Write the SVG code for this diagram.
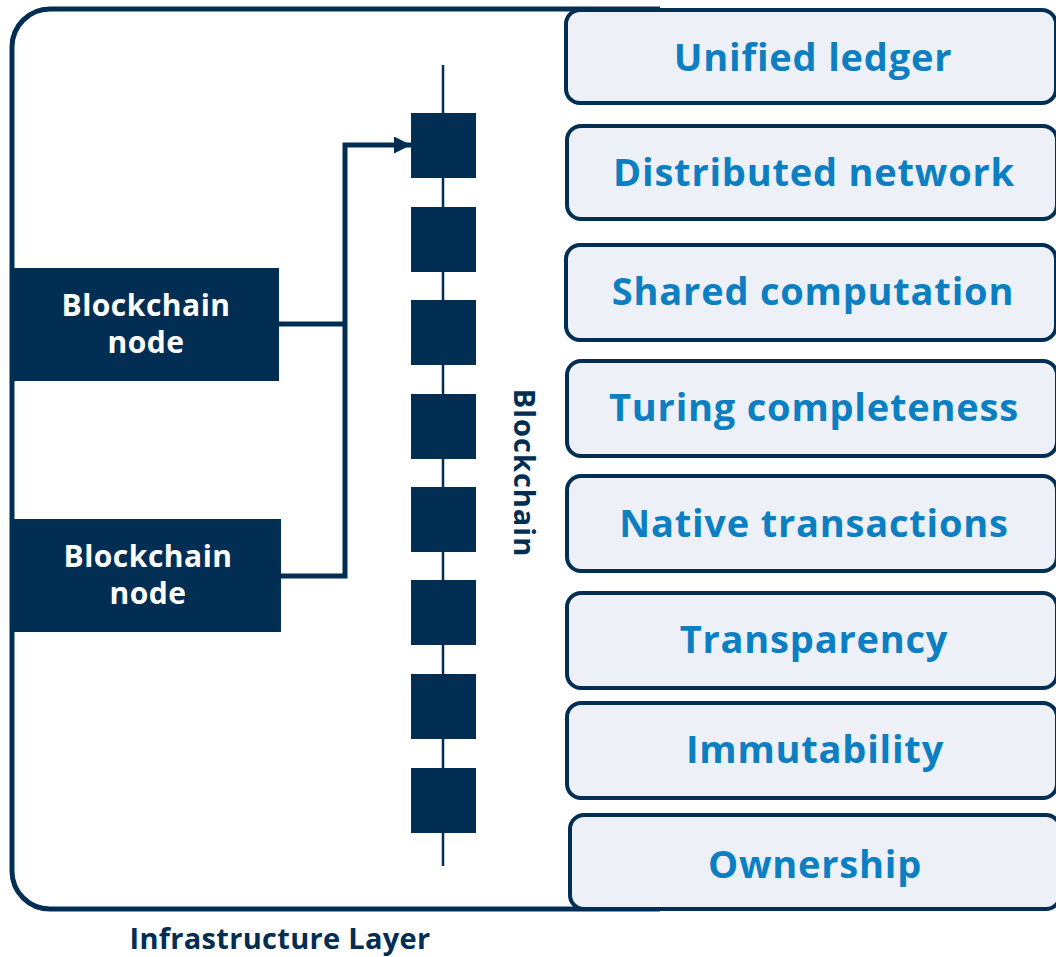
<svg xmlns="http://www.w3.org/2000/svg" width="1056" height="957" viewBox="0 0 1056 957">
<defs>
<style>
.feat rect{fill:#edf0f6;stroke:#032e54;stroke-width:4}
.feat text{font-family:"Open Sans","Liberation Sans",sans-serif;font-weight:700;font-size:38px;letter-spacing:0.8px;fill:#0b7fc2;text-anchor:middle;dominant-baseline:central}
.node rect{fill:#032e54}
.node text{font-family:"Open Sans","Liberation Sans",sans-serif;font-weight:700;font-size:30px;letter-spacing:0.5px;fill:#ffffff;text-anchor:middle}
.blk{fill:#032e54}
.conn{fill:none;stroke:#032e54;stroke-width:5}
.lbl{font-family:"Open Sans","Liberation Sans",sans-serif;font-weight:700;fill:#032e54}
</style>
<marker id="arr" markerWidth="18" markerHeight="18" refX="17" refY="8.5" orient="auto" markerUnits="userSpaceOnUse">
<path d="M0,0 L17,8.5 L0,17 Z" fill="#032e54"/>
</marker>
</defs>
<rect x="0" y="0" width="1056" height="957" fill="#ffffff"/>
<g id="layer">
<path d="M660,9 H50 A38,38 0 0 0 12,47 V871 A38,38 0 0 0 50,909 H660" fill="none" stroke="#032e54" stroke-width="5"/>
</g>
<g id="chain">
<line x1="443" y1="65" x2="443" y2="866" stroke="#032e54" stroke-width="2.5"/>
<rect class="blk" x="411" y="113" width="65" height="65"/>
<rect class="blk" x="411" y="207" width="65" height="65"/>
<rect class="blk" x="411" y="300" width="65" height="65"/>
<rect class="blk" x="411" y="394" width="65" height="65"/>
<rect class="blk" x="411" y="487" width="65" height="65"/>
<rect class="blk" x="411" y="580" width="65" height="65"/>
<rect class="blk" x="411" y="674" width="65" height="65"/>
<rect class="blk" x="411" y="768" width="65" height="65"/>
<text class="lbl" font-size="29" letter-spacing="1" transform="translate(514,473) rotate(90)" text-anchor="middle">Blockchain</text>
</g>
<g id="connectors">
<path class="conn" d="M278,324 H345"/>
<path class="conn" d="M280,576 H345 V145 H411" marker-end="url(#arr)"/>
</g>
<g id="node1" class="node">
<rect x="14" y="268" width="265" height="113"/>
<text x="146" y="316">Blockchain</text>
<text x="146" y="353">node</text>
</g>
<g id="node2" class="node">
<rect x="14" y="519" width="267" height="113"/>
<text x="148" y="567">Blockchain</text>
<text x="148" y="604">node</text>
</g>
<g id="f1" class="feat"><rect x="566" y="10" width="490" height="93" rx="14"/><text x="813" y="56">Unified ledger</text></g>
<g id="f2" class="feat"><rect x="567" y="126" width="490" height="93" rx="14"/><text x="814" y="171">Distributed network</text></g>
<g id="f3" class="feat"><rect x="566" y="245" width="490" height="95" rx="14"/><text x="813" y="290">Shared computation</text></g>
<g id="f4" class="feat"><rect x="567" y="361" width="490" height="95" rx="14"/><text x="814" y="406">Turing completeness</text></g>
<g id="f5" class="feat"><rect x="567" y="476" width="490" height="95" rx="14"/><text x="814" y="522">Native transactions</text></g>
<g id="f6" class="feat"><rect x="567" y="593" width="490" height="95" rx="14"/><text x="814" y="638">Transparency</text></g>
<g id="f7" class="feat"><rect x="567" y="703" width="490" height="95" rx="14"/><text x="815" y="748">Immutability</text></g>
<g id="f8" class="feat"><rect x="570" y="815" width="490" height="94" rx="14"/><text x="815" y="863">Ownership</text></g>
<text class="lbl" x="280" y="949" font-size="29" letter-spacing="0.3" text-anchor="middle">Infrastructure Layer</text>
</svg>
